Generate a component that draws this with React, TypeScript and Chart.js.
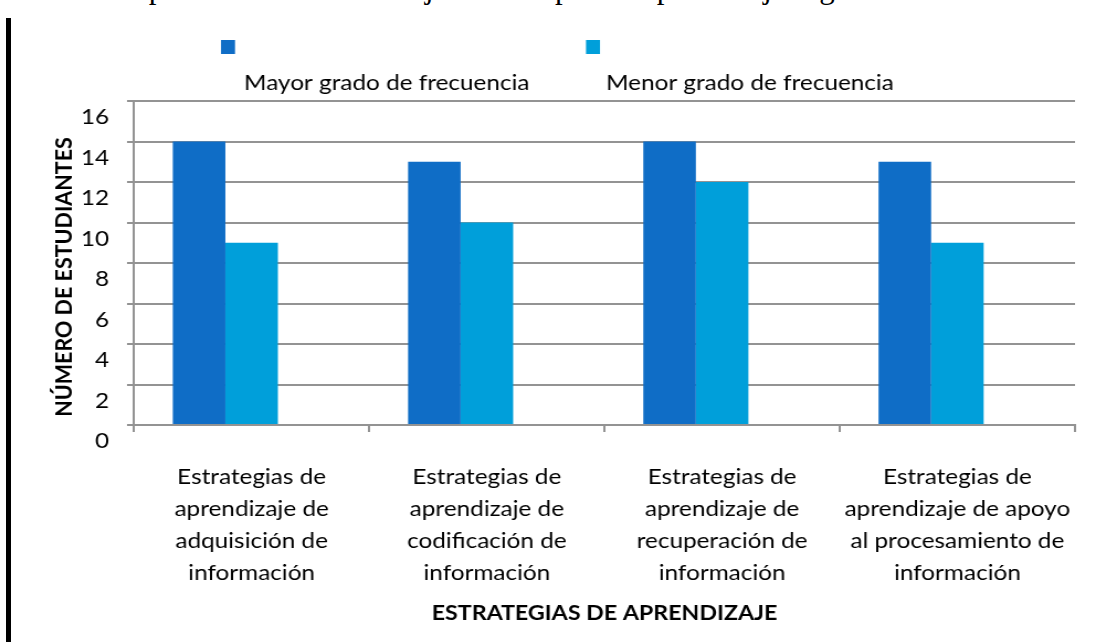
import React, { useEffect, useRef } from 'react';
import { Chart, registerables } from 'chart.js';

Chart.register(...registerables);

const categories: string[][] = [
  ['Estrategias de', 'aprendizaje de', 'adquisición de', 'información'],
  ['Estrategias de', 'aprendizaje de', 'codificación de', 'información'],
  ['Estrategias de', 'aprendizaje de', 'recuperación de', 'información'],
  ['Estrategias de', 'aprendizaje de apoyo', 'al procesamiento de', 'información'],
];
const seriesNames = ['Mayor grado de frecuencia', 'Menor grado de frecuencia'];
const mayorValues = [14, 13, 14, 13];
const menorValues = [9, 10, 12, 9];
const emptyValues: (number | null)[] = [null, null, null, null];
const yMin = 0;
const yMax = 16;
const yStep = 2;
const yTitle = 'NÚMERO DE ESTUDIANTES';
const xTitle = 'ESTRATEGIAS DE APRENDIZAJE';
const colors = ['#0F6DC6', '#009FDA'];
const topText = 'Se presenta el buen manejo de los tipos de aprendizaje según';

const FONT = 'Lato, Carlito, Calibri, sans-serif';
const GRID = '#939393';

// the picture is horizontally stretched: the canvas is drawn narrower and widened by CSS
const CSS_W = 1096;
const CANVAS_W = 992;
const S = CSS_W / CANVAS_W;
const H = 642;

const decorPlugin = {
  id: 'decor',
  afterDraw(chart: any) {
    const ctx = chart.ctx;
    const area = chart.chartArea;
    ctx.save();
    const legendItems = [
      { box: 221, text: 244 },
      { box: 586, text: 606 },
    ];
    legendItems.forEach((it, i) => {
      ctx.fillStyle = colors[i];
      ctx.fillRect(it.box / S, 40, 14 / S, 14);
      ctx.fillStyle = '#000';
      ctx.font = `22px ${FONT}`;
      ctx.textAlign = 'left';
      ctx.textBaseline = 'alphabetic';
      ctx.fillText(seriesNames[i], it.text / S, 90);
    });
    ctx.save();
    ctx.translate(64 / S, 277);
    ctx.rotate(-Math.PI / 2);
    ctx.font = `bold 21.5px ${FONT}`;
    ctx.textAlign = 'center';
    ctx.textBaseline = 'middle';
    ctx.fillStyle = '#000';
    ctx.fillText(yTitle, 0, 0);
    ctx.restore();
    ctx.font = `bold 21px ${FONT}`;
    ctx.textAlign = 'center';
    ctx.textBaseline = 'middle';
    ctx.fillStyle = '#000';
    ctx.fillText(xTitle, (area.left + area.right) / 2, 613);
    ctx.restore();
  },
};

export default function App() {
  const canvasRef = useRef<HTMLCanvasElement | null>(null);

  useEffect(() => {
    let chart: Chart | null = null;
    let cancelled = false;
    const make = () => {
      if (cancelled || !canvasRef.current) return;
      chart = new Chart(canvasRef.current, {
        type: 'bar',
        data: {
          labels: categories,
          datasets: [
            { label: seriesNames[0], data: mayorValues, backgroundColor: colors[0] },
            { label: seriesNames[1], data: menorValues, backgroundColor: colors[1] },
            { label: '', data: emptyValues, backgroundColor: 'rgba(0,0,0,0)' },
          ],
        },
        options: {
          animation: false,
          responsive: false,
          devicePixelRatio: 1,
          datasets: { bar: { categoryPercentage: 0.67, barPercentage: 1 } },
          layout: { padding: { top: 101, right: 21 / S, left: 0, bottom: 0 } },
          plugins: {
            legend: { display: false },
            title: { display: false },
            tooltip: { enabled: false },
          },
          scales: {
            x: {
              offset: true,
              grid: {
                offset: true,
                drawOnChartArea: false,
                drawTicks: true,
                tickLength: 7,
                color: GRID,
                lineWidth: 2,
              },
              border: { display: true, color: GRID, width: 2 },
              ticks: {
                autoSkip: false,
                maxRotation: 0,
                minRotation: 0,
                color: '#000',
                padding: 29,
                font: { family: FONT, size: 22, lineHeight: 32 / 22 },
              },
              afterFit(scale: any) {
                scale.height = 217;
                scale.paddingLeft = 0;
                scale.paddingRight = 0;
              },
            },
            y: {
              min: yMin,
              max: yMax,
              ticks: {
                stepSize: yStep,
                color: '#000',
                padding: 18 / S,
                labelOffset: 16,
                font: { family: FONT, size: 22 },
              },
              grid: { color: GRID, lineWidth: 2, tickLength: 7 / S, drawTicks: true },
              border: { display: true, color: GRID, width: 2 },
              afterFit(scale: any) {
                scale.width = 134 / S;
                scale.paddingTop = 0;
                scale.paddingBottom = 0;
              },
            },
          },
        },
        plugins: [decorPlugin],
      });
    };
    const fontsReady = (document as any).fonts
      ? Promise.all([
          (document as any).fonts.load(`22px Lato`),
          (document as any).fonts.load(`bold 22px Lato`),
          (document as any).fonts.load(`31px "Liberation Serif"`),
        ]).catch(() => null)
      : Promise.resolve(null);
    fontsReady.then(make);
    return () => {
      cancelled = true;
      if (chart) chart.destroy();
    };
  }, []);

  return (
    <div style={{ position: 'fixed', left: 0, top: 0, width: CSS_W, height: H, background: '#fff', overflow: 'hidden' }}>
      <div
        style={{
          position: 'absolute',
          left: 110,
          top: -28,
          fontFamily: '"Liberation Serif", "Times New Roman", serif',
          fontSize: 31,
          lineHeight: '31px',
          whiteSpace: 'nowrap',
          color: '#000',
        }}
      >
        {topText}
      </div>
      <div style={{ position: 'absolute', left: 6, top: 18, width: 5, height: H - 18, background: '#000' }} />
      <canvas
        ref={canvasRef}
        width={CANVAS_W}
        height={H}
        style={{ position: 'absolute', left: 0, top: 0, width: CSS_W, height: H }}
      />
    </div>
  );
}
